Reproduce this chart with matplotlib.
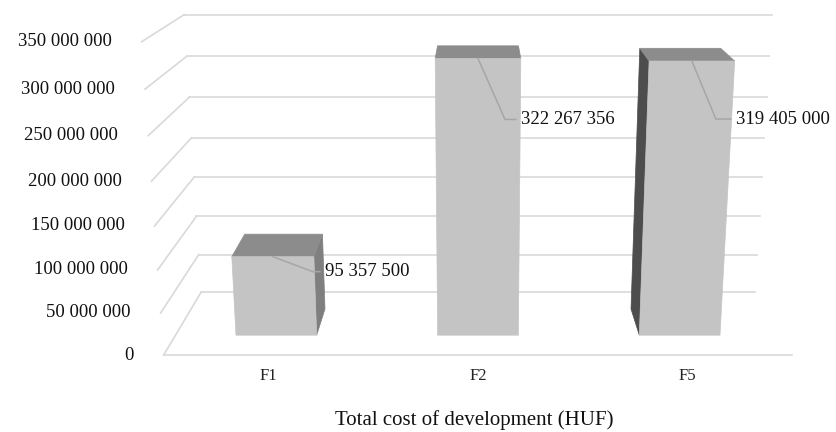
"""
Total cost of development (HUF) - 3D column chart drawn with a simple
pinhole projection onto a plain 2D axes.
"""
import numpy as np
import matplotlib.pyplot as plt
from matplotlib.patches import Polygon

categories = ["F1", "F2", "F5"]
costs = [95357500, 322267356, 319405000]
axis_ticks = [0, 50000000, 100000000, 150000000, 200000000,
              250000000, 300000000, 350000000]
x_title = "Total cost of development (HUF)"

# leader line for each data label: (dx, dy, tail) in pixels
leaders = [(40, 15, 7), (27, 61, 11), (24, 58, 15)]

# camera / scene set-up
TILT = np.arctan(0.279)       # camera looks slightly down
FOCAL = 1301.0
U0, V0 = 478.0, 190.0
CAM_H = 1.0                   # camera height above the floor
Y_PER_HUF = 0.62 / 350e6
CAT_W = 0.412
HALF_W = 1.5 * CAT_W
FLOOR_Z0, FLOOR_D = 2.376, 0.359
BAR_W = 0.4 * CAT_W
BAR_D = 0.15

GRID = "#d9d9d9"
FRONT = "#c4c4c4"
TOP = "#8c8c8c"
SIDE_R = "#7f7f7f"
SIDE_L = "#4d4d4d"
FONT = ["Liberation Serif", "DejaVu Serif"]


def fmt(v):
    return f"{int(v):,}".replace(",", " ")


def project(x, value, z):
    y = value * Y_PER_HUF - CAM_H
    c, s = np.cos(TILT), np.sin(TILT)
    yc = y * c + z * s
    zc = -y * s + z * c
    return U0 + FOCAL * x / zc, V0 - FOCAL * yc / zc


def face(ax, pts, color, z=3):
    xy = [project(*p) for p in pts]
    ax.add_patch(Polygon(xy, closed=True, facecolor=color, edgecolor=color,
                         linewidth=0.5, zorder=z))


fig = plt.figure(figsize=(8.37, 4.32), dpi=100)
ax = fig.add_axes([0, 0, 1, 1])
ax.set_xlim(0, 837)
ax.set_ylim(432, 0)
ax.axis("off")

z_front, z_back = FLOOR_Z0, FLOOR_Z0 + FLOOR_D

# gridlines on the back wall and the left wall, plus tick labels
for t in axis_ticks:
    bl = project(-HALF_W, t, z_back)
    br = project(HALF_W, t, z_back)
    fl = project(-HALF_W, t, z_front)
    ax.plot([bl[0], br[0]], [bl[1], br[1]], color=GRID, lw=1.2, zorder=1)
    ax.plot([fl[0], bl[0]], [fl[1], bl[1]], color=GRID, lw=1.2, zorder=1)
    ax.text(fl[0] - 30, fl[1], fmt(t), ha="right", va="center",
            fontsize=13.5, family=FONT, color="#111111")

# front edge of the floor
a = project(-HALF_W, 0, z_front)
b = project(HALF_W, 0, z_front)
ax.plot([a[0], b[0]], [a[1], b[1]], color=GRID, lw=1.2, zorder=1)

zmid = FLOOR_Z0 + FLOOR_D / 2
for i, (cat, val) in enumerate(zip(categories, costs)):
    xc = (i - 1) * CAT_W
    x0, x1 = xc - BAR_W / 2, xc + BAR_W / 2
    zf, zb = zmid - BAR_D / 2, zmid + BAR_D / 2

    if x1 < 0:
        face(ax, [(x1, 0, zf), (x1, 0, zb), (x1, val, zb), (x1, val, zf)], SIDE_R)
    if x0 > 0:
        face(ax, [(x0, 0, zf), (x0, 0, zb), (x0, val, zb), (x0, val, zf)], SIDE_L)
    face(ax, [(x0, val, zf), (x1, val, zf), (x1, val, zb), (x0, val, zb)], TOP)
    face(ax, [(x0, 0, zf), (x1, 0, zf), (x1, val, zf), (x0, val, zf)], FRONT, z=4)

    # data label with leader line
    ux, uy = project(xc, val, zf)
    dx, dy, tail = leaders[i]
    ax.plot([ux, ux + dx, ux + dx + tail], [uy, uy + dy, uy + dy],
            color="#a6a6a6", lw=1.1, zorder=5)
    ax.text(ux + dx + tail + 5, uy + dy, fmt(val), ha="left", va="center",
            fontsize=13.5, family=FONT, color="#111111", zorder=6)

    # category label under the floor
    cx, cy = project(xc, 0, z_front)
    ax.text(cx, cy + 21, cat, ha="center", va="center",
            fontsize=12, family=FONT, color="#222222")

ax.text(U0 - 4, 420, x_title, ha="center", va="center",
        fontsize=15, family=FONT, color="#111111")

fig.savefig("out.png", dpi=100)
